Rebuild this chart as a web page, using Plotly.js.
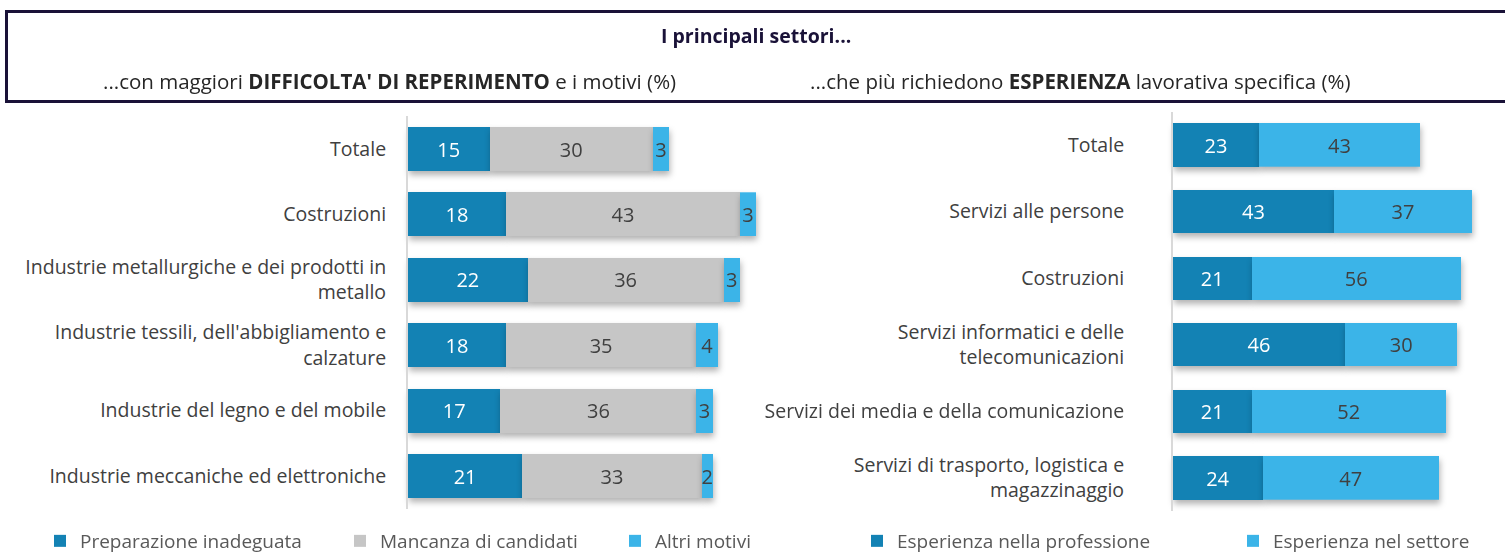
<!DOCTYPE html>
<html><head><meta charset="utf-8">
<script src="https://cdn.plot.ly/plotly-3.0.1.min.js"></script>
<style>
html,body{margin:0;padding:0;background:#fff;}
#chart{width:1505px;height:554px;}
#chart .barlayer .trace{filter:drop-shadow(1px 4px 3px rgba(0,0,0,0.30));}
</style>
</head><body><div id="chart"></div>
<script>
// Left panel: sectors with hiring difficulty and reasons (%)
const leftCategories = ["Totale", "Costruzioni", "Industrie metallurgiche e dei prodotti in<br>metallo", "Industrie tessili, dell'abbigliamento e<br>calzature", "Industrie del legno e del mobile", "Industrie meccaniche ed elettroniche"];
const preparazioneInadeguata = [15, 18, 22, 18, 17, 21];
const mancanzaCandidati = [30, 43, 36, 35, 36, 33];
const altriMotivi = [3, 3, 3, 4, 3, 2];

// Right panel: sectors requiring specific work experience (%)
const rightCategories = ["Totale", "Servizi alle persone", "Costruzioni", "Servizi informatici e delle<br>telecomunicazioni", "Servizi dei media e della comunicazione", "Servizi di trasporto, logistica e<br>magazzinaggio"];
const esperienzaProfessione = [23, 43, 21, 46, 21, 24];
const esperienzaSettore = [43, 37, 56, 30, 52, 47];

const leftNames = ["Preparazione inadeguata", "Mancanza di candidati", "Altri motivi"];
const rightNames = ["Esperienza nella professione", "Esperienza nel settore"];

const DARK = "#1382B4", GREY = "#C6C6C6", LIGHT = "#3BB4E8";
const FONT = "Open Sans, sans-serif";

function bar(y, x, name, color, txtColor, xa, ya, legend, width) {
  return {
    type: "bar", orientation: "h", y: y, x: x, name: name,
    marker: {color: color, line: {width: 0}},
    text: x.map(String), textposition: "inside", insidetextanchor: "middle",
    textfont: {family: FONT, size: 20, color: txtColor},
    constraintext: "none", cliponaxis: false,
    xaxis: xa, yaxis: ya, legend: legend, width: width, hoverinfo: "skip"
  };
}

const data = [
  bar(leftCategories, preparazioneInadeguata, leftNames[0], DARK, "#ffffff", "x", "y", "legend", 0.67),
  bar(leftCategories, mancanzaCandidati, leftNames[1], GREY, "#404040", "x", "y", "legend2", 0.67),
  bar(leftCategories, altriMotivi, leftNames[2], LIGHT, "#404040", "x", "y", "legend3", 0.67),
  bar(rightCategories, esperienzaProfessione, rightNames[0], DARK, "#ffffff", "x2", "y2", "legend4", 0.65),
  bar(rightCategories, esperienzaSettore, rightNames[1], LIGHT, "#404040", "x2", "y2", "legend5", 0.65)
];

const W = 1505, H = 554;
const yaxisCommon = {
  type: "category", autorange: false, range: [5.5, -0.5],
  showgrid: false, zeroline: false, ticks: "", showline: true,
  linecolor: "#D9D9D9", linewidth: 2, fixedrange: true,
  tickfont: {family: FONT, size: 19.5, color: "#404040"}
};
function leg(textStart) {
  return {orientation: "h", x: (textStart - 38)/W, xanchor: "left", y: 1 - 541/H, yanchor: "middle",
          font: {family: FONT, size: 19, color: "#595959"}, itemwidth: 30, bgcolor: "rgba(0,0,0,0)"};
}
const layout = {
  width: W, height: H, margin: {l: 0, r: 0, t: 0, b: 0, autoexpand: false},
  paper_bgcolor: "#fff", plot_bgcolor: "rgba(0,0,0,0)",
  barmode: "stack", showlegend: true,
  font: {family: FONT, color: "#404040"},
  xaxis: {domain: [408/W, (408 + 70*5.44)/W], range: [0, 70], visible: false, fixedrange: true},
  yaxis: Object.assign({}, yaxisCommon, {domain: [1 - 508.7/H, 1 - 116.3/H], anchor: "x", ticklabelstandoff: 16}),
  xaxis2: {domain: [1173/W, (1173 + 88*3.74)/W], range: [0, 88], visible: false, fixedrange: true, anchor: "y2"},
  yaxis2: Object.assign({}, yaxisCommon, {domain: [1 - 511.3/H, 1 - 111.7/H], anchor: "x2", ticklabelstandoff: 43}),
  legend: leg(78), legend2: leg(378), legend3: leg(653), legend4: leg(895), legend5: leg(1271),
  shapes: [
    {type: "rect", xref: "paper", yref: "paper", x0: 6.5/W, x1: 1515/W, y0: 1 - 101.5/H, y1: 1 - 11.5/H,
     line: {color: "#1A1238", width: 3}, fillcolor: "rgba(0,0,0,0)", layer: "below"}
  ],
  annotations: [
    {text: "<b>I principali settori...</b>", xref: "paper", yref: "paper", x: 756/W, y: 1 - 35/H,
     showarrow: false, xanchor: "center", yanchor: "middle", font: {family: FONT, size: 19.5, color: "#1A1238"}},
    {text: "...con maggiori <b>DIFFICOLTA' DI REPERIMENTO</b> e i motivi (%)", xref: "paper", yref: "paper", x: 390/W, y: 1 - 81/H,
     showarrow: false, xanchor: "center", yanchor: "middle", font: {family: FONT, size: 20.5, color: "#262626"}},
    {text: "...che più richiedono <b>ESPERIENZA</b> lavorativa specifica (%)", xref: "paper", yref: "paper", x: 1080/W, y: 1 - 81/H,
     showarrow: false, xanchor: "center", yanchor: "middle", font: {family: FONT, size: 20.5, color: "#262626"}}
  ]
};

Plotly.newPlot("chart", data, layout, {displayModeBar: false, staticPlot: true});
</script>
</body></html>
